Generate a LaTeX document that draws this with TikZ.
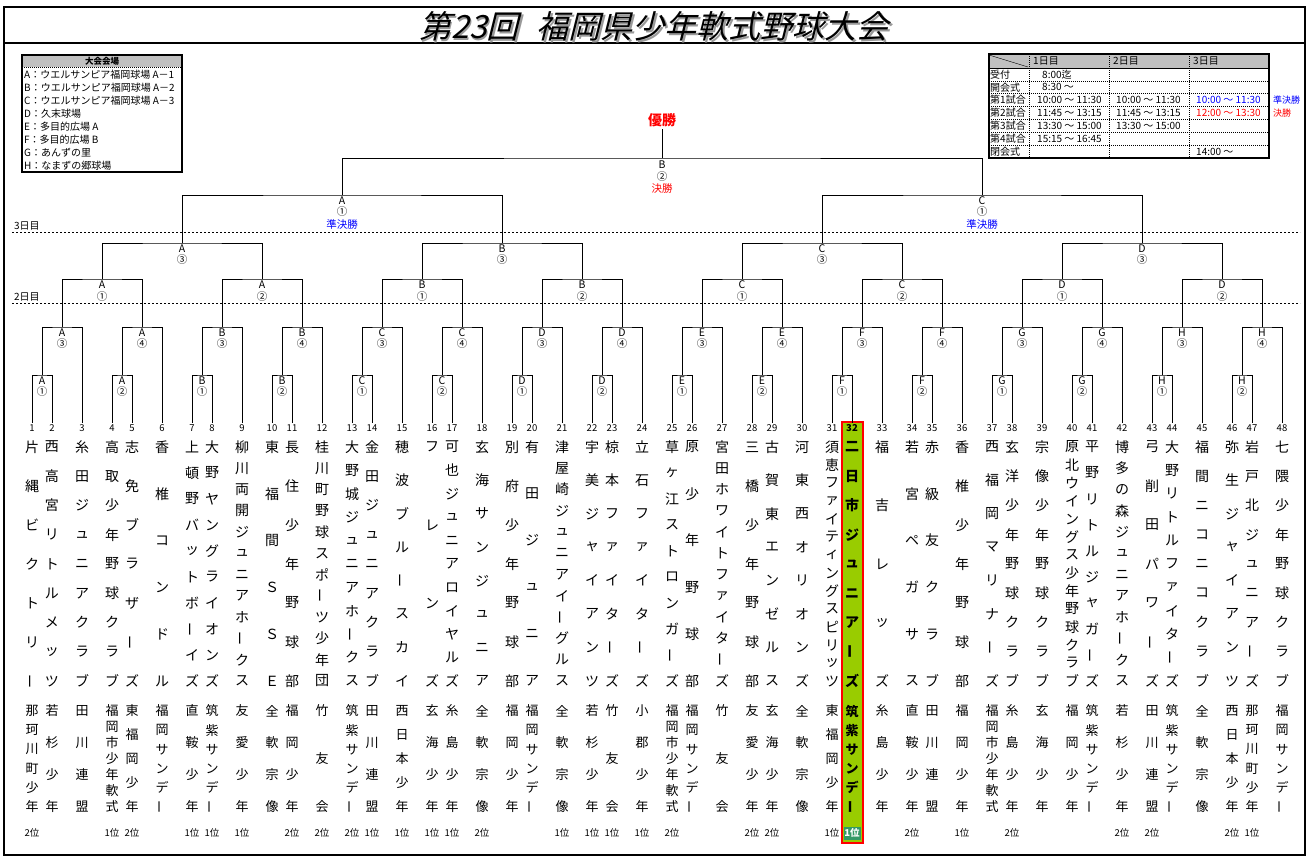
\documentclass[tikz,border=0pt]{standalone}
\usepackage{fontspec}
\setmainfont{Noto Sans CJK JP}
\newfontfamily\titlefont[FakeSlant=0.25]{Noto Sans CJK JP}
\usepackage{xcolor}
\definecolor{myred}{RGB}{255,0,0}
\definecolor{myblue}{RGB}{0,0,255}
\definecolor{wingreen}{RGB}{153,204,0}
\definecolor{winteal}{RGB}{51,153,102}
\definecolor{headgray}{RGB}{192,192,192}
\usetikzlibrary{calc,positioning}

% vertical text: one node per character, spread from top to bottom
\ExplSyntaxOn
\tl_new:N \l_vt_text_tl
\tl_new:N \l_vt_char_tl
\tl_new:N \l_vt_rot_tl
\int_new:N \l_vt_n_int
\tl_const:Nn \c_vt_bar_tl { ー }
\NewDocumentCommand \vtext { O{} m m m m m }
  {
    \tl_set:Nx \l_vt_text_tl {#6}
    \int_set:Nn \l_vt_n_int { \tl_count:N \l_vt_text_tl }
    \int_step_inline:nn { \l_vt_n_int }
      {
        \tl_set:Nx \l_vt_char_tl { \tl_item:Nn \l_vt_text_tl {##1} }
        \tl_if_eq:NNTF \l_vt_char_tl \c_vt_bar_tl
          { \tl_set:Nn \l_vt_rot_tl { rotate = 90 } }
          { \tl_clear:N \l_vt_rot_tl }
        \use:x
          {
            \exp_not:N \node [ #1 , \l_vt_rot_tl ] ~ ( #2 - ##1 ) ~ at ~
              ( #3 , \fp_eval:n { #4 + (##1 - 1) * (#5 - #4) / (\l_vt_n_int - 1) } )
              { \l_vt_char_tl } ;
          }
      }
  }
\ExplSyntaxOff

\begin{document}
\begin{tikzpicture}[x=1pt,y=-1pt,
    frame/.style={line width=1.1pt},
    bline/.style={line width=0.9pt},
    dayline/.style={line width=0.8pt,dash pattern=on 2pt off 2pt},
    tdot/.style={line width=0.6pt,dash pattern=on 1pt off 1pt},
    title/.style={font=\titlefont\fontsize{32}{32}\selectfont,inner sep=0pt},
    legend/.style={font=\fontsize{10}{10}\selectfont,anchor=west,inner sep=0pt},
    legendhead/.style={font=\fontsize{8.5}{8.5}\selectfont\bfseries,inner sep=0pt},
    sched/.style={font=\fontsize{10}{10}\selectfont,anchor=west,inner sep=0pt},
    daylab/.style={font=\fontsize{10}{10}\selectfont,anchor=west,inner sep=0pt},
    venue/.style={font=\fontsize{10.5}{10.5}\selectfont,inner sep=0pt},
    champ/.style={font=\fontsize{14}{14}\selectfont\bfseries,text=myred,inner sep=2.5pt},
    tnum/.style={font=\fontsize{9.5}{9.5}\selectfont,inner sep=1.5pt},
    tname/.style={font=\fontsize{14}{14}\selectfont,inner sep=0pt},
    tarea/.style={font=\fontsize{13}{13}\selectfont,inner sep=0pt},
    tplace/.style={font=\fontsize{9.5}{9.5}\selectfont,inner sep=0pt},
    winner/.style={
      tnum/.append style={font=\fontsize{9.5}{9.5}\selectfont\bfseries},
      tname/.append style={font=\fontsize{14}{14}\selectfont\bfseries},
      tarea/.append style={font=\fontsize{13}{13}\selectfont\bfseries},
      tplace/.append style={font=\fontsize{9.5}{9.5}\selectfont\bfseries,
        fill=winteal,text=white,minimum width=17pt,minimum height=13pt}}
  ]
  % Canvas
  \useasboundingbox (0,0) rectangle (1310,862);
  \fill[white] (0,0) rectangle (1310,862);
  % Frame and title
  \draw[frame] (4,7) rectangle (1305,855);
  \draw[frame] (4,43) -- (1305,43);
  \node[title,text=black!40] (titleshadow) at (655.5,28) {第23回\hspace{18pt}福岡県少年軟式野球大会};
  \node[title] (title) at (654,26.5) {第23回\hspace{18pt}福岡県少年軟式野球大会};

  % Venue list
  \fill[headgray] (22,55) rectangle (182,67);
  \draw[tdot] (22,67) -- (182,67);
  \draw[frame] (22,55) rectangle (182,172);
  \node[legendhead] (venues) at (102,61) {大会会場};
  \foreach \lab [count=\r] in {A：ウエルサンピア福岡球場 A－1,B：ウエルサンピア福岡球場 A－2,
      C：ウエルサンピア福岡球場 A－3,D：久末球場,E：多目的広場 A,F：多目的広場 B,
      G：あんずの里,H：なまずの郷球場}
    \node[legend] (venue\r) at (24,{75+12.9*(\r-1)}) {\lab};

  % Time table
  \fill[headgray] (989,54) rectangle (1269,68);
  \foreach \y in {80.9,93.7,106.6,119.4,132.3,145.1}
    \draw[tdot] (989,\y) -- (1269,\y);
  \foreach \x in {1029,1109,1189}
    \draw[tdot] (\x,54) -- (\x,158);
  \draw (989,68) -- (1269,68);
  \draw (989,55) -- (1028,67);
  \draw[frame] (989,54) rectangle (1269,158);
  \node[sched] (day1) at (1033,61) {1日目};
  \node[sched] (day2) at (1113,61) {2日目};
  \node[sched] (day3) at (1193,61) {3日目};
  \foreach \lab [count=\r] in {受付,開会式,第1試合,第2試合,第3試合,第4試合,閉会式}
    \node[sched] (slot\r) at (990,{61.6+12.86*\r}) {\lab};
  \node[sched] (c11) at (1042,74.5) {8:00迄};
  \node[sched] (c21) at (1042,87.3) {8:30 〜};
  \node[sched] (c31) at (1037,100.2) {10:00 〜 11:30};
  \node[sched] (c32) at (1116,100.2) {10:00 〜 11:30};
  \node[sched,text=myblue] (c33) at (1196,100.2) {10:00 〜 11:30};
  \node[sched,text=myblue,font=\fontsize{9}{9}\selectfont] (c34) at (1273,100.2) {準決勝};
  \node[sched] (c41) at (1037,113) {11:45 〜 13:15};
  \node[sched] (c42) at (1116,113) {11:45 〜 13:15};
  \node[sched,text=myred] (c43) at (1196,113) {12:00 〜 13:30};
  \node[sched,text=myred,font=\fontsize{9}{9}\selectfont] (c44) at (1273,113) {決勝};
  \node[sched] (c51) at (1037,125.9) {13:30 〜 15:00};
  \node[sched] (c52) at (1116,125.9) {13:30 〜 15:00};
  \node[sched] (c61) at (1037,138.7) {15:15 〜 16:45};
  \node[sched] (c73) at (1196,151.6) {14:00 〜};

  % Day lines
  \node[daylab] (d3) at (14,226) {3日目};
  \draw[dayline] (12,232) -- (1300,232);
  \node[daylab] (d2) at (14,297) {2日目};
  \draw[dayline] (12,303) -- (1300,303);

  % Winner column
  \fill[wingreen] (842,422) rectangle (863,843);
  \draw[myred,line width=2pt] (842,422) rectangle (863,843);

  % Teams
  \foreach \i/\nm/\rg/\pl in {
      1/片縄ビクトリー/那珂川町少年/2位, 2/西高宮リトルメッツ/若杉少年/,
      3/糸田ジュニアクラブ/田川連盟/, 4/高取少年野球クラブ/福岡市少年軟式/1位,
      5/志免ブラザーズ/東福岡少年/2位, 6/香椎コンドル/福岡サンデー/,
      7/上頓野バットボーイズ/直鞍少年/1位, 8/大野ヤングライオンズ/筑紫サンデー/1位,
      9/柳川両開ジュニアホークス/友愛少年/1位, 10/東福間ＳＳＥ/全軟宗像/,
      11/長住少年野球部/福岡少年/2位, 12/桂川町野球スポーツ少年団/竹友会/2位,
      13/大野城ジュニアホークス/筑紫サンデー/2位, 14/金田ジュニアクラブ/田川連盟/1位,
      15/穂波ブルースカイ/西日本少年/1位, 16/フレンズ/玄海少年/1位,
      17/可也ジュニアロイヤルズ/糸島少年/1位, 18/玄海サンジュニア/全軟宗像/2位,
      19/別府少年野球部/福岡少年/, 20/有田ジュニア/福岡サンデー/,
      21/津屋崎ジュニアイーグルス/全軟宗像/1位, 22/宇美ジャイアンツ/若杉少年/1位,
      23/椋本ファイターズ/竹友会/1位, 24/立石ファイターズ/小郡少年/1位,
      25/草ヶ江ストロンガーズ/福岡市少年軟式/2位, 26/原少年野球部/福岡サンデー/,
      27/宮田ホワイトファイターズ/竹友会/, 28/三橋少年野球部/友愛少年/2位,
      29/古賀東エンゼルス/玄海少年/2位, 30/河東西オリオンズ/全軟宗像/,
      31/須恵ファイティングスピリッツ/東福岡少年/1位, 32/二日市ジュニアーズ/筑紫サンデー/1位,
      33/福吉レッズ/糸島少年/, 34/若宮ペガサス/直鞍少年/2位,
      35/赤級友クラブ/田川連盟/, 36/香椎少年野球部/福岡少年/1位,
      37/西福岡マリナーズ/福岡市少年軟式/, 38/玄洋少年野球クラブ/糸島少年/2位,
      39/宗像少年野球クラブ/玄海少年/, 40/原北ウイングス少年野球クラブ/福岡少年/,
      41/平野リトルジャガーズ/筑紫サンデー/, 42/博多の森ジュニアホークス/若杉少年/2位,
      43/弓削田パワーズ/田川連盟/2位, 44/大野リトルファイターズ/筑紫サンデー/,
      45/福間ニコニコクラブ/全軟宗像/, 46/弥生ジャイアンツ/西日本少年/2位,
      47/岩戸北ジュニアーズ/那珂川町少年/1位, 48/七隈少年野球クラブ/福岡サンデー/} {
    \pgfmathsetmacro\tx{32+80*int((\i-1)/3)+20*mod(\i-1,3)+10*int(mod(\i-1,3)/2)}
    \ifnum\i=32 \tikzset{winner}\fi
    \node[tnum] (n\i) at (\tx,428) {\i};
    \vtext[tname]{nm\i}{\tx}{447}{681}{\nm}
    \vtext[tarea]{rg\i}{\tx}{711}{807}{\rg}
    \ifx\pl\empty\else\node[tplace] (p\i) at (\tx,833) {\pl};\fi
  }

  % First and second round
  \foreach \v [count=\k from 0] in {A,B,C,D,E,F,G,H} {
    \foreach \j/\fa/\fb in {0/①/③,1/②/④} {
      \pgfmathtruncatemacro\g{2*\k+\j}
      \pgfmathtruncatemacro\ta{3*\g+1}
      \pgfmathtruncatemacro\tb{3*\g+2}
      \pgfmathtruncatemacro\tc{3*\g+3}
      \coordinate (q\g) at (42+80*\g,375);
      \coordinate (r\g) at (62+80*\g,327);
      \draw[bline] (n\ta.north) |- (q\g) -| (n\tb.north);
      \draw[bline] (q\g) |- (r\g) -| (n\tc.north);
      \node[venue] (qv\g) at (42+80*\g,381) {\v};
      \node[venue] (qn\g) at (42+80*\g,392) {\fa};
      \node[venue] (rv\g) at (62+80*\g,333) {\v};
      \node[venue] (rn\g) at (62+80*\g,344) {\fb};
    }
  }
  % Third round
  \foreach \v/\fa [count=\k from 0] in {A/①,A/②,B/①,B/②,C/①,C/②,D/①,D/②} {
    \pgfmathtruncatemacro\ga{2*\k}
    \pgfmathtruncatemacro\gb{2*\k+1}
    \coordinate (s\k) at (102+160*\k,279);
    \draw[bline] (r\ga) |- (s\k) -| (r\gb);
    \node[venue] (sv\k) at (102+160*\k,285) {\v};
    \node[venue] (sn\k) at (102+160*\k,297) {\fa};
  }
  % Quarter finals
  \foreach \v [count=\k from 0] in {A,B,C,D} {
    \pgfmathtruncatemacro\ga{2*\k}
    \pgfmathtruncatemacro\gb{2*\k+1}
    \coordinate (u\k) at (182+320*\k,243);
    \draw[bline] (s\ga) |- (u\k) -| (s\gb);
    \node[venue] (uv\k) at (182+320*\k,249) {\v};
    \node[venue] (un\k) at (182+320*\k,260) {③};
  }
  % Semi finals
  \foreach \v [count=\k from 0] in {A,C} {
    \pgfmathtruncatemacro\ga{2*\k}
    \pgfmathtruncatemacro\gb{2*\k+1}
    \coordinate (v\k) at (342+640*\k,195);
    \draw[bline] (u\ga) |- (v\k) -| (u\gb);
    \node[venue] (vv\k) at (342+640*\k,201) {\v};
    \node[venue] (vn\k) at (342+640*\k,212) {①};
    \node[venue,text=myblue] (vs\k) at (342+640*\k,224) {準決勝};
  }
  % Final
  \coordinate (w) at (662,158);
  \draw[bline] (v0) |- (w) -| (v1);
  \node[champ] (yusho) at (662,120) {優勝};
  \draw[bline] (w) -- (yusho.south);
  \node[venue] (wv) at (662,165) {B};
  \node[venue] (wn) at (662,177) {②};
  \node[venue,text=myred] (ws) at (662,189) {決勝};
\end{tikzpicture}
\end{document}
